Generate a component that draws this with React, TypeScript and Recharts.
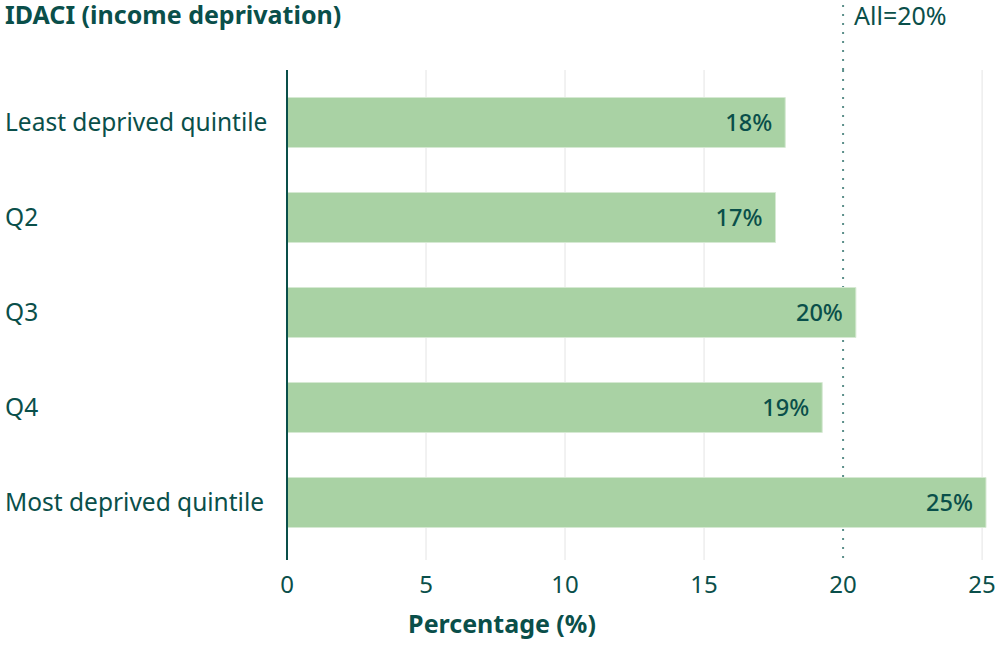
import React from 'react';
import { BarChart, Bar, XAxis, YAxis, CartesianGrid, ReferenceLine, LabelList, Customized } from 'recharts';

const categories = ['Least deprived quintile', 'Q2', 'Q3', 'Q4', 'Most deprived quintile'];
const values = [17.92, 17.57, 20.46, 19.25, 25.14];
const valueLabels = ['18%', '17%', '20%', '19%', '25%'];
const xTicks = [0, 5, 10, 15, 20, 25];
const gridValues = [5, 10, 15, 25];
const allValue = 20;
const allLabel = 'All=20%';
const title = 'IDACI (income deprivation)';
const xTitle = 'Percentage (%)';

const data = categories.map((c, i) => ({ name: c, value: values[i], label: valueLabels[i] }));

const TEAL = '#0a4f4a';
const DOT = '#5b8f8a';
const FONT = '"Noto Sans", sans-serif';

const YTick = (props: any) => {
  const { y, payload } = props;
  return (
    <text x={5} y={y} dy="0.355em" textAnchor="start" fill={TEAL} fontSize={24.5} fontFamily={FONT}>
      {payload.value}
    </text>
  );
};

const XTick = (props: any) => {
  const { x, y, payload } = props;
  return (
    <text x={x} y={y} dy="0.71em" textAnchor="middle" fill={TEAL} fontSize={24} fontFamily={FONT}>
      {payload.value}
    </text>
  );
};

// Draws only the part of the "All" line above the plot area, plus its label;
// the part inside the plot is drawn by a dotted grid line beneath the bars.
const RefShape = (props: any) => {
  const { x1, y1, y2 } = props;
  const top = Math.min(y1, y2);
  return (
    <g>
      <line x1={x1} y1={top} x2={x1} y2={5} stroke={DOT} strokeWidth={2} strokeDasharray="2 7" />
      <text x={x1 + 11} y={25} fill={TEAL} fontSize={25} fontFamily={FONT}>{allLabel}</text>
    </g>
  );
};

const Titles = () => (
  <g>
    <text x={5} y={24} fill={TEAL} fontSize={25} fontWeight={700} fontFamily={FONT}>{title}</text>
    <text x={502} y={633} textAnchor="middle" fill={TEAL} fontSize={25} fontWeight={700} fontFamily={FONT}>{xTitle}</text>
  </g>
);

export default function App() {
  return (
    <div style={{ position: 'absolute', left: 0, top: 0, width: 1004, height: 651, background: '#fff' }}>
      <BarChart
        width={1004}
        height={651}
        data={data}
        layout="vertical"
        margin={{ top: 70, right: 8, bottom: 0, left: 0 }}
      >
        <CartesianGrid horizontal={false} vertical={true} verticalValues={gridValues} stroke="#e4e4e4" strokeWidth={1} />
        <CartesianGrid horizontal={false} vertical={true} verticalValues={[allValue]} stroke={DOT} strokeWidth={2} strokeDasharray="2 7" />
        <ReferenceLine x={allValue} shape={RefShape} />
        <XAxis
          type="number"
          domain={[0, 25.5]}
          ticks={xTicks}
          height={91}
          axisLine={false}
          tickLine={false}
          tickSize={0}
          tickMargin={16}
          tick={XTick}
          interval={0}
        />
        <YAxis
          type="category"
          dataKey="name"
          width={287}
          padding={{ top: 4.5, bottom: 10.5 }}
          axisLine={{ stroke: TEAL, strokeWidth: 2 }}
          tickLine={false}
          tick={YTick}
          interval={0}
        />
        <Bar dataKey="value" fill="#a9d2a4" stroke="#d6e9d3" strokeWidth={1} barSize={50} isAnimationActive={false}>
          <LabelList
            dataKey="label"
            position="insideRight"
            offset={13}
            fill={TEAL}
            fontSize={23.5}
            fontWeight={500}
            fontFamily={FONT}
          />
        </Bar>
        <Customized component={Titles} />
      </BarChart>
    </div>
  );
}
